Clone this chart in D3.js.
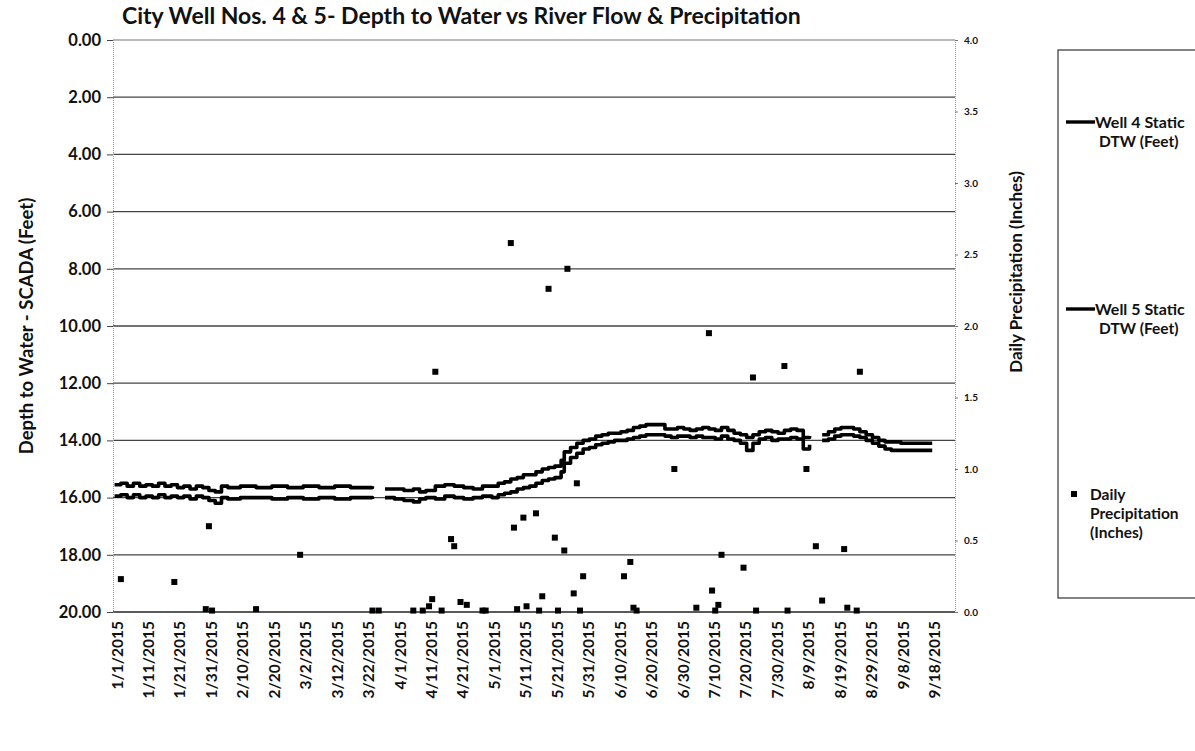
<!DOCTYPE html>
<html><head><meta charset="utf-8">
<script src="https://cdn.jsdelivr.net/npm/d3@7"></script>
<style>
html,body{margin:0;padding:0;background:#fff;}
text{font-family:Lato,"Open Sans",sans-serif;font-weight:bold;fill:#111;}
</style></head>
<body><svg id="c" width="1195" height="751"></svg>
<script>
// ---- data ----
const title = "City Well Nos. 4 & 5- Depth to Water vs River Flow & Precipitation";
const leftTicks = [0,2,4,6,8,10,12,14,16,18,20];
const rightTicks = [0,0.5,1,1.5,2,2.5,3,3.5,4];
const xTickLabels = ["1/1/2015","1/11/2015","1/21/2015","1/31/2015","2/10/2015","2/20/2015","3/2/2015","3/12/2015","3/22/2015","4/1/2015","4/11/2015","4/21/2015","5/1/2015","5/11/2015","5/21/2015","5/31/2015","6/10/2015","6/20/2015","6/30/2015","7/10/2015","7/20/2015","7/30/2015","8/9/2015","8/19/2015","8/29/2015","9/8/2015","9/18/2015"];

const wellDates = ["1/1","1/3","1/5","1/7","1/9","1/11","1/13","1/15","1/17","1/19","1/21","1/23","1/25","1/27","1/29","1/31","2/2","2/4","2/6","2/10","2/15","2/20","2/25","3/2","3/7","3/12","3/17","3/22","3/24","3/26","3/28","3/31","4/3","4/6","4/8","4/10","4/13","4/16","4/19","4/22","4/25","4/28","5/1","5/3","5/5","5/7","5/9","5/11","5/13","5/15","5/17","5/19","5/21","5/23","5/24","5/26","5/28","5/30","6/1","6/3","6/5","6/7","6/9","6/11","6/13","6/15","6/17","6/19","6/21","6/23","6/25","6/27","6/29","7/1","7/3","7/5","7/7","7/9","7/11","7/13","7/15","7/17","7/19","7/21","7/23","7/25","7/27","7/29","7/31","8/2","8/4","8/6","8/8","8/10","8/12","8/14","8/16","8/18","8/20","8/22","8/24","8/26","8/28","8/30","9/1","9/3","9/5","9/8","9/12","9/15","9/18"];
const well4 = [15.55,15.5,15.6,15.5,15.6,15.55,15.6,15.5,15.6,15.55,15.65,15.6,15.7,15.6,15.65,15.75,15.8,15.6,15.65,15.6,15.65,15.6,15.65,15.6,15.65,15.6,15.65,15.65,15.6,null,15.7,15.7,15.75,15.7,15.8,15.75,15.6,15.55,15.6,15.65,15.7,15.6,15.6,15.5,15.45,15.35,15.3,15.2,15.2,15.1,15.0,14.95,14.9,14.7,14.4,14.25,14.1,14.0,13.95,13.85,13.8,13.75,13.75,13.7,13.65,13.55,13.5,13.45,13.45,13.45,13.6,13.6,13.55,13.6,13.65,13.6,13.55,13.6,13.65,13.55,13.65,13.75,13.8,13.9,13.8,13.7,13.65,13.7,13.75,13.65,13.6,13.65,13.9,13.85,null,13.8,13.7,13.6,13.55,13.55,13.6,13.7,13.8,13.9,14.0,14.05,14.05,14.1,14.1,14.1,14.1];
const well5 = [15.95,15.9,16.0,15.9,16.0,15.95,16.0,15.9,16.0,15.95,16.0,15.95,16.05,15.95,16.0,16.1,16.2,16.0,16.05,16.0,16.0,16.05,16.0,16.05,16.0,16.05,16.0,16.0,16.05,null,16.0,16.05,16.1,16.15,16.05,16.0,16.05,15.95,16.0,16.05,16.0,15.95,16.0,15.9,15.85,15.8,15.7,15.65,15.6,15.5,15.4,15.35,15.3,15.1,14.8,14.6,14.45,14.3,14.25,14.15,14.1,14.05,14.0,14.0,13.95,13.9,13.85,13.8,13.8,13.8,13.85,13.9,13.85,13.85,13.9,13.85,13.9,13.9,13.95,13.85,13.95,14.0,14.1,14.35,14.1,13.95,13.9,14.0,13.95,13.95,13.9,13.95,14.3,14.15,null,14.0,13.95,13.85,13.8,13.8,13.85,13.9,14.0,14.1,14.2,14.3,14.35,14.35,14.35,14.35,14.35];

const precipDates = ["1/3","1/20","1/30","1/31","2/1","2/15","3/1","3/24","3/26","4/6","4/9","4/11","4/12","4/13","4/15","4/18","4/19","4/21","4/23","4/28","4/29","5/7","5/8","5/9","5/11","5/12","5/15","5/16","5/17","5/19","5/21","5/22","5/24","5/25","5/27","5/28","5/29","5/30","6/12","6/14","6/15","6/16","6/28","7/5","7/9","7/10","7/11","7/12","7/13","7/20","7/23","7/24","8/2","8/3","8/9","8/12","8/14","8/21","8/22","8/25","8/26"];
const precipValues = [0.23,0.21,0.02,0.60,0.01,0.02,0.40,0.01,0.01,0.01,0.01,0.04,0.09,1.68,0.01,0.51,0.46,0.07,0.05,0.01,0.01,2.58,0.59,0.02,0.66,0.04,0.69,0.01,0.11,2.26,0.52,0.01,0.43,2.40,0.13,0.90,0.01,0.25,0.25,0.35,0.03,0.01,1.00,0.03,1.95,0.15,0.01,0.05,0.40,0.31,1.64,0.01,1.72,0.01,1.00,0.46,0.08,0.44,0.03,0.01,1.68];

// ---- layout ----
const svg = d3.select("#c");
const L = 113, R = 955, T = 40, B = 612;
const parse = s => { const [m,d] = s.split("/").map(Number); return new Date(2015, m-1, d); };
const x = d3.scaleTime().domain([new Date(2014,11,31,12), new Date(2015,8,25,6)]).range([L, R]);
const yL = d3.scaleLinear().domain([0,20]).range([T,B]);
const yR = d3.scaleLinear().domain([0,4]).range([B,T]);

// gridlines
svg.append("g").selectAll("line").data(leftTicks.filter(d=>d>0 && d<20)).join("line")
  .attr("x1",L).attr("x2",R).attr("y1",d=>yL(d)).attr("y2",d=>yL(d))
  .attr("stroke","#444").attr("stroke-width",1.3);
svg.append("line").attr("x1",L).attr("x2",R).attr("y1",T).attr("y2",T).attr("stroke","#777").attr("stroke-width",1.1);
svg.append("line").attr("x1",L).attr("x2",R).attr("y1",B).attr("y2",B).attr("stroke","#222").attr("stroke-width",1.5);

// left axis
const ax = d3.axisLeft(yL).tickValues(leftTicks).tickFormat(d=>d3.format(".2f")(d)).tickSize(6).tickPadding(6);
const gL = svg.append("g").attr("transform",`translate(${L},0)`).call(ax);
gL.select(".domain").attr("stroke","#999").attr("stroke-dasharray","1,1");
gL.selectAll(".tick line").attr("stroke","#444");
gL.selectAll("text").style("font-size","16.5px").attr("fill","#111");

// right axis
const ar = d3.axisRight(yR).tickValues(rightTicks).tickFormat(d3.format(".1f")).tickSize(3).tickPadding(6);
const gR = svg.append("g").attr("transform",`translate(${R},0)`).call(ar);
gR.select(".domain").attr("stroke","#999").attr("stroke-dasharray","1,1");
gR.selectAll(".tick line").attr("stroke","#777");
gR.selectAll("text").style("font-size","10px").attr("fill","#222");

// x labels
const xTicks = xTickLabels.map(s => { const [m,d,y] = s.split("/").map(Number); return new Date(y,m-1,d); });
const ab = d3.axisBottom(x).tickValues(xTicks).tickFormat((d,i)=>xTickLabels[i]).tickSize(0).tickPadding(0);
const gB = svg.append("g").attr("transform",`translate(0,${B})`).call(ab);
gB.select(".domain").remove();
gB.selectAll("text").style("font-size","15.5px").attr("fill","#111")
  .attr("text-anchor","end").attr("transform","rotate(-90)").attr("x",-9).attr("y",2).attr("dy","0.35em");

// lines
const mk = arr => wellDates.map((d,i)=>({date:parse(d), v:arr[i]}));
const line = d3.line().defined(d=>d.v!==null).x(d=>x(d.date)).y(d=>yL(d.v)).curve(d3.curveStepAfter);
[well4, well5].forEach(a => svg.append("path").datum(mk(a)).attr("d",line)
  .attr("fill","none").attr("stroke","#000").attr("stroke-width",3.6).attr("stroke-linejoin","round"));

// precipitation markers
const pts = precipDates.map((d,i)=>({date:parse(d), v:precipValues[i]}));
svg.append("g").selectAll("rect").data(pts).join("rect")
  .attr("x",d=>x(d.date)-3).attr("y",d=>yR(d.v)-3).attr("width",6).attr("height",6).attr("fill","#000");

// titles
svg.append("text").attr("x",122).attr("y",24).style("font-size","23px").text(title);
svg.append("text").attr("transform",`translate(33,${(T+B)/2}) rotate(-90)`).attr("text-anchor","middle")
  .style("font-size","18.5px").text("Depth to Water - SCADA (Feet)");
svg.append("text").attr("transform",`translate(1022,272) rotate(-90)`).attr("text-anchor","middle")
  .style("font-size","17px").text("Daily Precipitation (Inches)");

// legend
const lg = svg.append("g");
lg.append("rect").attr("x",1058).attr("y",50).attr("width",160).attr("height",548)
  .attr("fill","none").attr("stroke","#333").attr("stroke-width",1.2);
lg.append("line").attr("x1",1066).attr("x2",1095).attr("y1",122).attr("y2",122).attr("stroke","#000").attr("stroke-width",3.4);
lg.append("text").attr("x",1095).attr("y",128).style("font-size","16px").text("Well 4 Static");
lg.append("text").attr("x",1099).attr("y",147).style("font-size","15.5px").text("DTW (Feet)");
lg.append("line").attr("x1",1066).attr("x2",1095).attr("y1",309).attr("y2",309).attr("stroke","#000").attr("stroke-width",3.4);
lg.append("text").attr("x",1095).attr("y",315).style("font-size","16px").text("Well 5 Static");
lg.append("text").attr("x",1099).attr("y",334).style("font-size","15.5px").text("DTW (Feet)");
lg.append("rect").attr("x",1071).attr("y",491).attr("width",6).attr("height",6).attr("fill","#000");
lg.append("text").attr("x",1090).attr("y",500).style("font-size","15.5px").text("Daily");
lg.append("text").attr("x",1090).attr("y",519).style("font-size","15.5px").text("Precipitation");
lg.append("text").attr("x",1090).attr("y",538).style("font-size","15.5px").text("(Inches)");
</script></body></html>
